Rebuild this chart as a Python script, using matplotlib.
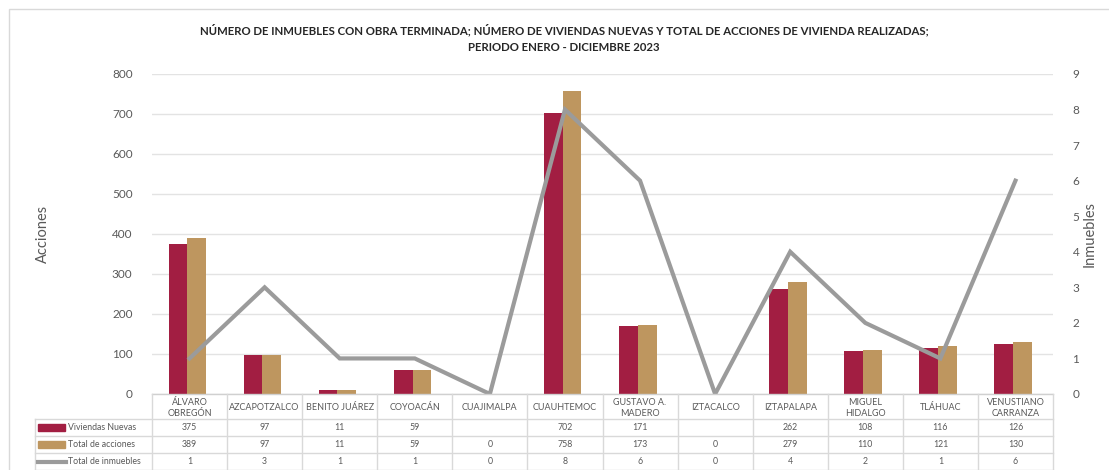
import matplotlib
matplotlib.use("Agg")
import matplotlib.pyplot as plt
import numpy as np
from matplotlib.transforms import blended_transform_factory
from matplotlib.patches import Rectangle
from matplotlib.lines import Line2D

categories = ["ÁLVARO\nOBREGÓN", "AZCAPOTZALCO", "BENITO JUÁREZ", "COYOACÁN", "CUAJIMALPA",
              "CUAUHTEMOC", "GUSTAVO A.\nMADERO", "IZTACALCO", "IZTAPALAPA", "MIGUEL\nHIDALGO",
              "TLÁHUAC", "VENUSTIANO\nCARRANZA"]
viviendas_nuevas = [375, 97, 11, 59, None, 702, 171, None, 262, 108, 116, 126]
total_acciones = [389, 97, 11, 59, 0, 758, 173, 0, 279, 110, 121, 130]
total_inmuebles = [1, 3, 1, 1, 0, 8, 6, 0, 4, 2, 1, 6]
series_names = ["Viviendas Nuevas", "Total de acciones", "Total de inmuebles"]
title = ("NÚMERO DE INMUEBLES CON OBRA TERMINADA; NÚMERO DE VIVIENDAS NUEVAS Y TOTAL DE ACCIONES DE VIVIENDA REALIZADAS;\n"
         "PERIODO ENERO - DICIEMBRE 2023")

C_VIV = "#A21E42"
C_ACC = "#BE965F"
C_INM = "#9B9B9B"
GRID = "#E3E3E3"
TXT = "#595959"

plt.rcParams['font.family'] = ['Lato', 'DejaVu Sans']

W, H = 1109, 470
fig = plt.figure(figsize=(W / 100, H / 100), dpi=100)

def fx(px):
    return px / W

def fy(py):
    return 1 - py / H

# outer border
fig.patches.append(Rectangle((fx(9), fy(480)), fx(1120 - 9), fy(9) - fy(480),
                             transform=fig.transFigure, fill=False, edgecolor="#D9D9D9", lw=1))

L, R, T, B = 152, 1053, 74, 394
ax = fig.add_axes([fx(L), fy(B), fx(R - L), fy(T) - fy(B)])
x = np.arange(len(categories))
bw = 0.25
viv = np.array([np.nan if v is None else v for v in viviendas_nuevas], dtype=float)
ax.bar(x - bw / 2 - 0.03, viv, bw, color=C_VIV, zorder=2)
ax.bar(x + bw / 2 - 0.03, total_acciones, bw, color=C_ACC, zorder=2)
ax.set_xlim(-0.5, len(categories) - 0.5)
ax.set_ylim(0, 800)
ax.set_yticks(np.arange(0, 801, 100))
ax.set_xticks([])
ax.grid(axis="y", color=GRID, lw=1, zorder=0)
ax.set_axisbelow(True)
for s in ax.spines.values():
    s.set_visible(False)
ax.tick_params(axis="y", length=0, labelsize=8.5, labelcolor=TXT, pad=14)
ax.set_ylabel("Acciones", fontsize=10.5, color=TXT)
ax.yaxis.set_label_coords((50 - L) / (R - L), 0.5)

ax2 = ax.twinx()
ax2.plot(x, total_inmuebles, color=C_INM, lw=3, zorder=3, solid_joinstyle="miter")
ax2.set_ylim(0, 9)
ax2.set_yticks(np.arange(0, 10, 1))
for s in ax2.spines.values():
    s.set_visible(False)
ax2.tick_params(axis="y", length=0, labelsize=8.5, labelcolor=TXT, pad=14)
ax2.set_ylabel("Inmuebles", fontsize=10.5, color=TXT)
ax2.yaxis.set_label_coords((1083 - L) / (R - L), 0.5)

fig.text(fx(564), fy(38), title, ha="center", va="center", fontsize=8.2,
         fontweight="bold", color="#262626", linespacing=1.6)

# data table
tr = blended_transform_factory(ax.transData, fig.transFigure)
line_kw = dict(color="#D9D9D9", lw=1)
xl = -0.5 - (L - 35) / ((R - L) / len(categories))
fig.add_artist(Line2D([-0.5, len(categories) - 0.5], [fy(394), fy(394)], transform=tr, color="#D0D0D0", lw=1))
for i in range(len(categories) + 1):
    fig.add_artist(Line2D([i - 0.5, i - 0.5], [fy(394), fy(471)], transform=tr, **line_kw))
fig.add_artist(Line2D([xl, xl], [fy(419), fy(471)], transform=tr, **line_kw))
for yy in [419, 436, 453, 470]:
    fig.add_artist(Line2D([xl, len(categories) - 0.5], [fy(yy), fy(yy)], transform=tr, **line_kw))

for i, c in enumerate(categories):
    fig.text(i, fy(408), c, transform=tr, ha="center", va="center", fontsize=6.5,
             color=TXT, linespacing=1.3)

rows = [viviendas_nuevas, total_acciones, total_inmuebles]
row_y = [427.5, 444.5, 461.5]
for r, vals in enumerate(rows):
    for i, v in enumerate(vals):
        if v is None:
            continue
        fig.text(i, fy(row_y[r]), f"{v}", transform=tr, ha="center", va="center",
                 fontsize=6.3, color=TXT)

# legend keys in table
fig.patches.append(Rectangle((fx(38), fy(431)), fx(27), fy(424) - fy(431), transform=fig.transFigure,
                             color=C_VIV))
fig.patches.append(Rectangle((fx(38), fy(448)), fx(27), fy(441) - fy(448), transform=fig.transFigure,
                             color=C_ACC))
fig.add_artist(Line2D([fx(38), fx(66)], [fy(461.5), fy(461.5)], transform=fig.transFigure,
                      color=C_INM, lw=3))
for r, name in enumerate(series_names):
    fig.text(fx(68), fy(row_y[r]), name, ha="left", va="center", fontsize=6.3, color=TXT)

fig.savefig("out.png", dpi=100)
